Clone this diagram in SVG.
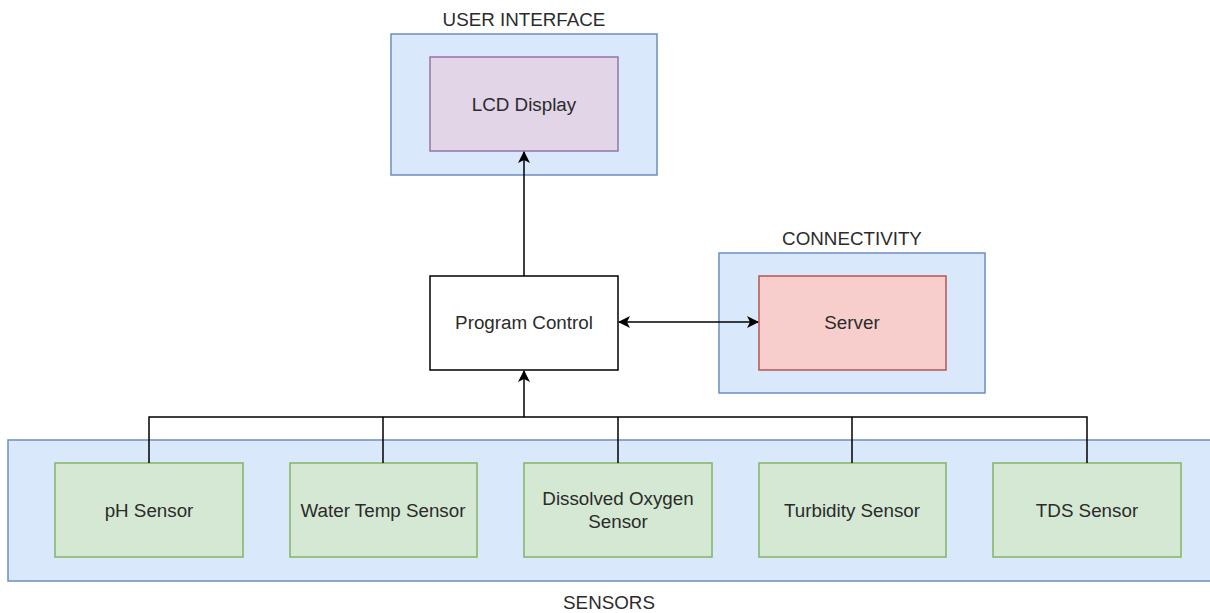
<svg xmlns="http://www.w3.org/2000/svg" width="1210" height="613" viewBox="0 0 1210 613">
  <style>
    text { font-family: "Liberation Sans", Arial, sans-serif; font-size: 18.8px; fill: #2b2b2b; text-anchor: middle; dominant-baseline: central; }
    .group { fill: #dae8fc; stroke: #6c8ebf; stroke-width: 1.5; }
    .display { fill: #e1d5e7; stroke: #9673a6; stroke-width: 1.5; }
    .server { fill: #f8cecc; stroke: #b85450; stroke-width: 1.5; }
    .sensor { fill: #d5e8d4; stroke: #82b366; stroke-width: 1.5; }
    .control { fill: #ffffff; stroke: #000000; stroke-width: 1.5; }
    .wire { fill: none; stroke: #000000; stroke-width: 1.5; }
  </style>
  <defs>
    <marker id="arrow" viewBox="0 0 12 12" refX="11" refY="6" markerWidth="12" markerHeight="12" markerUnits="userSpaceOnUse" orient="auto-start-reverse">
      <path d="M0,0 L12,6 L0,12 L3,6 Z" fill="#000000"/>
    </marker>
  </defs>

  <!-- container groups -->
  <g id="user-interface">
    <rect class="group" x="391" y="34" width="266" height="141"/>
    <text x="524" y="19">USER INTERFACE</text>
  </g>
  <g id="connectivity">
    <rect class="group" x="719" y="253" width="266" height="140"/>
    <text x="852" y="238">CONNECTIVITY</text>
  </g>
  <g id="sensors">
    <rect class="group" x="8" y="440" width="1205" height="141"/>
    <text x="609" y="602">SENSORS</text>
  </g>

  <!-- nodes -->
  <g id="lcd-display">
    <rect class="display" x="430" y="57" width="188" height="94"/>
    <text x="524" y="104">LCD Display</text>
  </g>
  <g id="program-control">
    <rect class="control" x="430" y="276" width="188" height="94"/>
    <text x="524" y="322">Program Control</text>
  </g>
  <g id="server">
    <rect class="server" x="759" y="276" width="187" height="94"/>
    <text x="852" y="322">Server</text>
  </g>
  <g id="ph-sensor">
    <rect class="sensor" x="55" y="463" width="188" height="94"/>
    <text x="149" y="510">pH Sensor</text>
  </g>
  <g id="water-temp-sensor">
    <rect class="sensor" x="290" y="463" width="187" height="94"/>
    <text x="383" y="510">Water Temp Sensor</text>
  </g>
  <g id="dissolved-oxygen-sensor">
    <rect class="sensor" x="524" y="463" width="188" height="94"/>
    <text x="618" y="498">Dissolved Oxygen</text>
    <text x="618" y="521">Sensor</text>
  </g>
  <g id="turbidity-sensor">
    <rect class="sensor" x="759" y="463" width="187" height="94"/>
    <text x="852" y="510">Turbidity Sensor</text>
  </g>
  <g id="tds-sensor">
    <rect class="sensor" x="993" y="463" width="188" height="94"/>
    <text x="1087" y="510">TDS Sensor</text>
  </g>

  <!-- connectors -->
  <g id="connectors">
    <path class="wire" d="M524,276 L524,152" marker-end="url(#arrow)"/>
    <path class="wire" d="M619,322 L758,322" marker-start="url(#arrow)" marker-end="url(#arrow)"/>
    <path class="wire" d="M149,463 L149,417 L1087,417 L1087,463"/>
    <path class="wire" d="M383,463 L383,417"/>
    <path class="wire" d="M618,463 L618,417"/>
    <path class="wire" d="M852,463 L852,417"/>
    <path class="wire" d="M524,417 L524,371" marker-end="url(#arrow)"/>
  </g>
</svg>
